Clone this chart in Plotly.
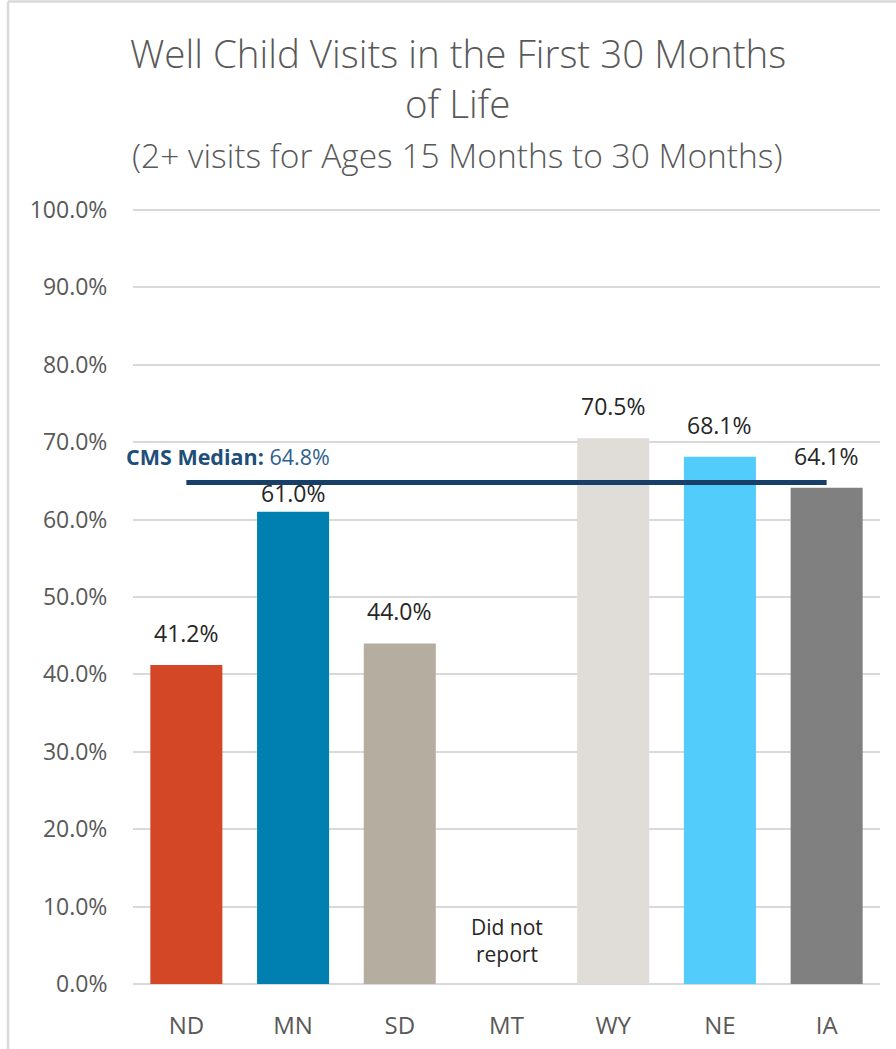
import plotly.graph_objects as go

states = ["ND", "MN", "SD", "MT", "WY", "NE", "IA"]
rates = [41.2, 61.0, 44.0, None, 70.5, 68.1, 64.1]
bar_colors = ["#D34726", "#0080B0", "#B5ADA0", "#FFFFFF", "#E0DCD7", "#52CCFA", "#808080"]
cms_median = 64.8
y_ticks = [0, 10, 20, 30, 40, 50, 60, 70, 80, 90, 100]
y_tick_labels = [f"{v:.1f}%" for v in y_ticks]
no_report_state = "MT"
no_report_text = "Did not<br>report"
title_lines = ["Well Child Visits in the First 30 Months", "of Life",
               "(2+ visits for Ages 15 Months to 30 Months)"]

FONT = "Open Sans"
TEXT = "#262626"
GREY = "#595959"

fig = go.Figure()
fig.add_trace(go.Bar(
    x=states,
    y=rates,
    marker=dict(color=bar_colors, line=dict(width=0)),
    hoverinfo="skip",
))

# value labels above bars
for s, v in zip(states, rates):
    if v is None:
        continue
    shift = 1 if s == "MN" else 14
    fig.add_annotation(
        x=s, y=v, xref="x", yref="y", text=f"{v:.1f}%",
        showarrow=False, yanchor="bottom", yshift=shift,
        font=dict(family=FONT, size=23, color=TEXT),
    )

# CMS median line from first to last category
fig.add_trace(go.Scatter(
    x=[states[0], states[-1]],
    y=[cms_median, cms_median],
    mode="lines",
    line=dict(color="#173F67", width=5),
    hoverinfo="skip",
))

fig.add_annotation(
    x=states[0], y=cms_median, xref="x", yref="y",
    text=f"<b>CMS Median:</b> <span style='color:#2E5F8F'>{cms_median:.1f}%</span>",
    showarrow=False, xanchor="left", yanchor="bottom",
    xshift=-62, yshift=9,
    font=dict(family=FONT, size=21.5, color="#1F4E79"),
)

fig.add_annotation(
    x=no_report_state, y=0, xref="x", yref="y",
    text=no_report_text, showarrow=False,
    yanchor="bottom", yshift=14,
    font=dict(family=FONT, size=21, color=TEXT),
)

# Title lines
title_y = [1.2003, 1.1357, 1.0685]
title_sizes = [38.5, 38.5, 33.5]
for t, yy, sz in zip(title_lines, title_y, title_sizes):
    fig.add_annotation(
        x=0.435, y=yy, xref="paper", yref="paper", xanchor="center", yanchor="middle",
        text=t, showarrow=False,
        font=dict(family=FONT, size=sz, color=GREY, weight=300),
    )

# Frame lines (top and left)
fig.add_shape(type="line", xref="paper", yref="paper",
              x0=-0.1673, x1=1.03, y0=1.2661, y1=1.2661,
              line=dict(color="#D9D9D9", width=2.5))
fig.add_shape(type="line", xref="paper", yref="paper",
              x0=-0.1673, x1=-0.1673, y0=1.2661, y1=-0.09,
              line=dict(color="#D9D9D9", width=2.5))

fig.update_layout(
    width=896, height=1049,
    margin=dict(l=133, r=16, t=208, b=65),
    paper_bgcolor="white", plot_bgcolor="white",
    showlegend=False,
    bargap=0.325,
    xaxis=dict(
        automargin=False,
        range=[-0.5, len(states) - 0.5],
        tickfont=dict(family=FONT, size=24, color=GREY),
        showline=False, showgrid=False,
        ticks="outside", ticklen=20, tickcolor="rgba(0,0,0,0)",
    ),
    yaxis=dict(
        automargin=False,
        range=[0, 100.25],
        tickvals=y_ticks, ticktext=y_tick_labels,
        tickfont=dict(family=FONT, size=23, color=GREY),
        showgrid=True, gridcolor="#D9D9D9", gridwidth=2,
        zeroline=True, zerolinecolor="#D9D9D9", zerolinewidth=2,
        ticks="outside", ticklen=20, tickcolor="rgba(0,0,0,0)",
        showline=False,
    ),
)

fig.write_html("out.html", config={"displayModeBar": False},
               post_script="document.body.style.margin='0';")
